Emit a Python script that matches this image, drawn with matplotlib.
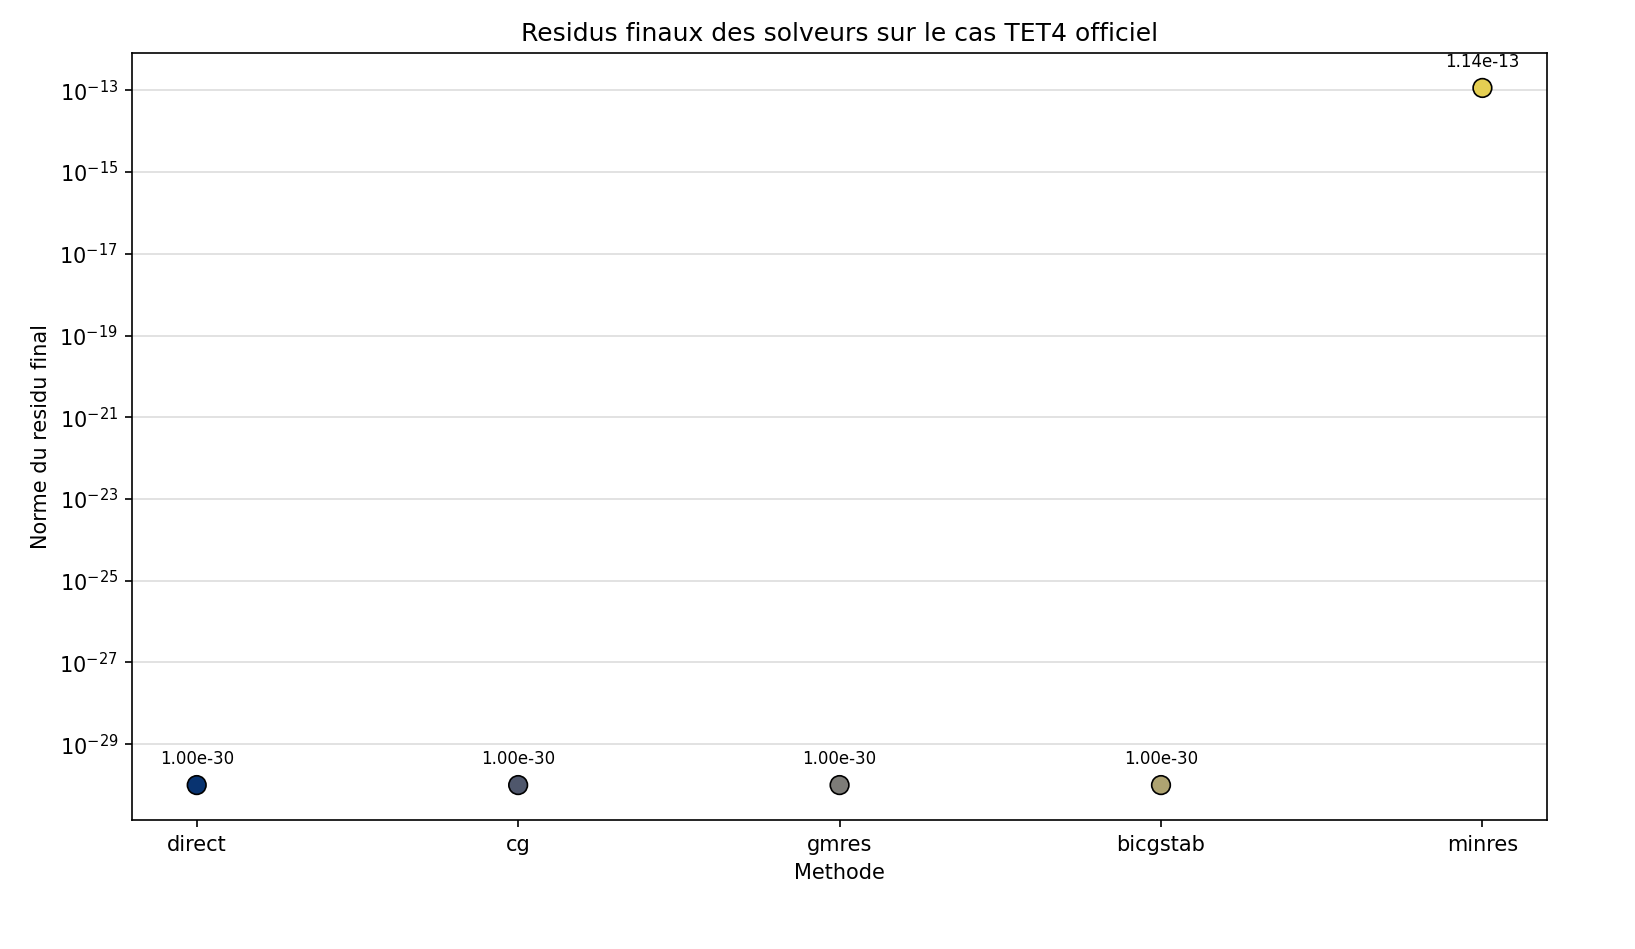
import matplotlib
matplotlib.use("Agg")
import matplotlib.pyplot as plt
import numpy as np

methods = ["direct", "cg", "gmres", "bicgstab", "minres"]
residuals = [1.00e-30, 1.00e-30, 1.00e-30, 1.00e-30, 1.14e-13]

fig = plt.figure(figsize=(10.9, 6.327), dpi=150)
ax = fig.add_axes([0.081, 0.136, 0.865, 0.808])
colors = plt.cm.cividis(np.linspace(0.1, 0.9, len(methods)))
x = np.arange(len(methods))
ax.scatter(x, residuals, s=80, c=colors, edgecolors="black", linewidths=0.8, zorder=3)
for xi, r in zip(x, residuals):
    ax.annotate(f"{r:.2e}", (xi, r), xytext=(0, 8), textcoords="offset points",
                ha="center", va="bottom", fontsize=8)
ax.set_yscale("log")
ax.set_xticks(x)
ax.set_xticklabels(methods)
ax.yaxis.grid(True, color="#dddddd", linewidth=0.8)
ax.set_axisbelow(True)
ax.set_xlabel("Methode")
ax.set_ylabel("Norme du residu final")
ax.set_title("Residus finaux des solveurs sur le cas TET4 officiel", fontsize=12)
fig.savefig("out.png", dpi=150)
